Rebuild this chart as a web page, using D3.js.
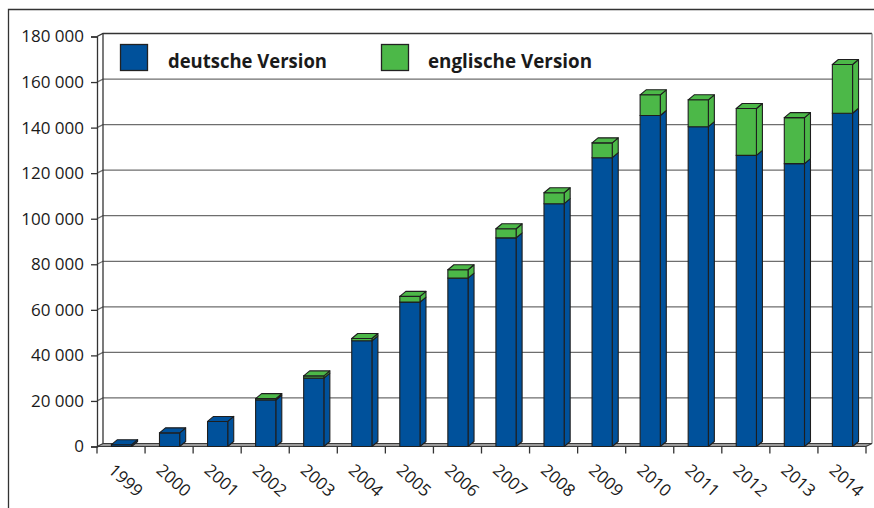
<!DOCTYPE html>
<html>
<head>
<meta charset="utf-8">
<script src="https://cdn.jsdelivr.net/npm/d3@7"></script>
<style>
  html, body { margin: 0; padding: 0; background: #fff; }
  svg { display: block; }
  text { font-family: "Open Sans", "Noto Sans", sans-serif; fill: #1a1a1a; }
</style>
</head>
<body>
<svg id="chart" width="874" height="508"></svg>
<script>
// Jahre und Werte (Anzahl Artikel) je Sprachversion
const years = ["1999","2000","2001","2002","2003","2004","2005","2006","2007","2008","2009","2010","2011","2012","2013","2014"];
const deutsch = [800, 6000, 11000, 20400, 30000, 46400, 63400, 73900, 91600, 106600, 126800, 145300, 140400, 127800, 124200, 146300];
const englisch = [0, 0, 0, 600, 1000, 1000, 2500, 3700, 4000, 4800, 6500, 9100, 11800, 20600, 20200, 21400];
const yTicks = [0, 20000, 40000, 60000, 80000, 100000, 120000, 140000, 160000, 180000];
const seriesNames = ["deutsche Version", "englische Version"];

const colors = { de: "#00519b", en: "#4cb848", stroke: "#1e1e1e", grid: "#6e6e6e", floor: "#9a9a9a" };

const svg = d3.select("#chart");

// Outer frame (top and left edges)
svg.append("path")
  .attr("d", "M8.5,508 L8.5,9.5 L874,9.5")
  .attr("fill", "none").attr("stroke", "#333").attr("stroke-width", 1.3);

// Front plane of the 3D plot and depth offsets
const plotL = 97, plotR = 866, plotB = 446.5, plotT = 36.5;
const wallDx = 6, wallDy = -3;   // back wall offset
const barDx = 6, barDy = -5;     // bar depth

const x = d3.scaleBand().domain(years).range([plotL, plotR]).paddingInner(0).paddingOuter(0);
const y = d3.scaleLinear().domain([0, 180000]).range([plotB, plotT]);

const fmt = d3.formatLocale({ decimal: ",", thousands: " ", grouping: [3], currency: ["", "€"] }).format(",d");

// Back wall gridlines, each joined to its front tick by a short diagonal
const grid = svg.append("g");
yTicks.forEach(v => {
  const yy = y(v);
  if (v === 0) return;
  grid.append("path")
    .attr("d", `M${plotL},${yy} L${plotL + wallDx},${yy + wallDy} L${plotR + wallDx},${yy + wallDy}`)
    .attr("fill", "none")
    .attr("stroke", v === 180000 ? "#333" : colors.grid)
    .attr("stroke-width", 1.3);
});
// Back wall right edge
grid.append("line")
  .attr("x1", plotR + wallDx).attr("x2", plotR + wallDx)
  .attr("y1", y(180000) + wallDy).attr("y2", y(0) + wallDy)
  .attr("stroke", "#888").attr("stroke-width", 1.3);
// Back wall left edge
grid.append("line")
  .attr("x1", plotL + wallDx).attr("x2", plotL + wallDx)
  .attr("y1", y(180000) + wallDy).attr("y2", y(0) + wallDy)
  .attr("stroke", "#333").attr("stroke-width", 1.3);

// Floor
svg.append("path")
  .attr("d", `M${plotL},${plotB} L${plotR},${plotB} L${plotR + wallDx},${plotB + wallDy} L${plotL + wallDx},${plotB + wallDy} Z`)
  .attr("fill", colors.floor).attr("stroke", "#3a3a3a").attr("stroke-width", 1.1);

// Y axis (front edge)
const yAxis = d3.axisLeft(y).tickValues(yTicks).tickFormat(fmt).tickSize(6).tickPadding(7);
const gy = svg.append("g").attr("transform", `translate(${plotL},0)`).call(yAxis);
gy.select(".domain").attr("stroke", "#333").attr("stroke-width", 1.3);
gy.selectAll(".tick line").attr("stroke", "#333").attr("stroke-width", 1.3);
gy.selectAll(".tick text").style("font-size", "17px").attr("fill", "#1a1a1a");

// X axis ticks at category boundaries and rotated year labels
const gx = svg.append("g");
const bounds = years.map(d => x(d)).concat([plotR]);
gx.selectAll("line.xt").data(bounds).join("line")
  .attr("x1", d => d).attr("x2", d => d)
  .attr("y1", plotB).attr("y2", plotB + 7)
  .attr("stroke", "#333").attr("stroke-width", 1.3);
gx.selectAll("text").data(years).join("text")
  .attr("transform", d => `translate(${x(d) + x.bandwidth() / 2 + 5},${480}) rotate(42)`)
  .attr("text-anchor", "middle")
  .attr("dominant-baseline", "central")
  .style("font-size", "17px")
  .text(d => d);

// Bars: front face, side face and top face for each stacked segment
const barOff = x.bandwidth() * 0.30, barW = x.bandwidth() * 0.42;
function box(g, x0, y0, y1, fill, drawTop) {
  const x1 = x0 + barW;
  g.append("path") // side
    .attr("d", `M${x1},${y1} L${x1 + barDx},${y1 + barDy} L${x1 + barDx},${y0 + barDy} L${x1},${y0} Z`)
    .attr("fill", fill).attr("stroke", colors.stroke).attr("stroke-width", 1.1).attr("stroke-linejoin", "round");
  g.append("path") // front
    .attr("d", `M${x0},${y0} L${x0},${y1} L${x1},${y1} L${x1},${y0} Z`)
    .attr("fill", fill).attr("stroke", colors.stroke).attr("stroke-width", 1.1);
  if (drawTop) {
    g.append("path") // top
      .attr("d", `M${x0},${y1} L${x0 + barDx},${y1 + barDy} L${x1 + barDx},${y1 + barDy} L${x1},${y1} Z`)
      .attr("fill", fill).attr("stroke", colors.stroke).attr("stroke-width", 1.1).attr("stroke-linejoin", "round");
  }
}
const bars = svg.append("g");
years.forEach((yr, i) => {
  const g = bars.append("g");
  const x0 = x(yr) + barOff;
  const hasEn = englisch[i] > 0;
  box(g, x0, y(0), y(deutsch[i]), colors.de, !hasEn);
  if (hasEn) box(g, x0, y(deutsch[i]), y(deutsch[i] + englisch[i]), colors.en, true);
});

// Legend
const legend = svg.append("g");
const legItems = [
  { name: seriesNames[0], color: colors.de, sx: 120.5, tx: 168, w: 159 },
  { name: seriesNames[1], color: colors.en, sx: 381.5, tx: 428, w: 164 }
];
legItems.forEach(it => {
  legend.append("rect")
    .attr("x", it.sx).attr("y", 44.5).attr("width", 27).attr("height", 26)
    .attr("fill", it.color).attr("stroke", "#222").attr("stroke-width", 1.3);
  legend.append("text")
    .attr("x", it.tx).attr("y", 68)
    .attr("textLength", it.w).attr("lengthAdjust", "spacingAndGlyphs")
    .style("font-size", "19px").style("font-weight", "bold")
    .text(it.name);
});
</script>
</body>
</html>
